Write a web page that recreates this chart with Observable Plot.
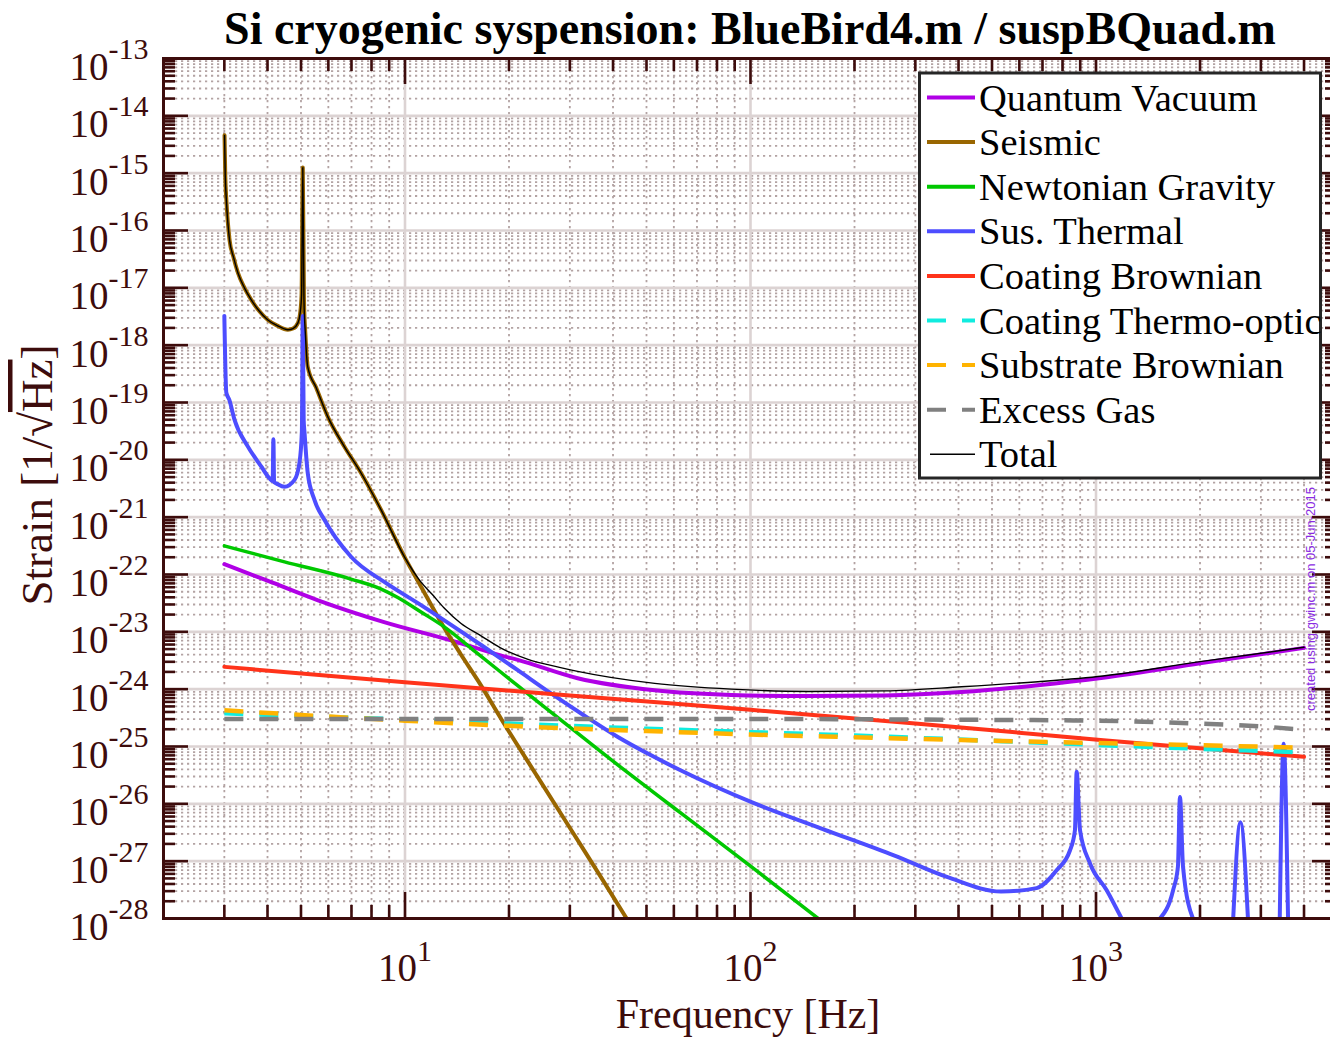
<!DOCTYPE html>
<html><head><meta charset="utf-8">
<script src="https://cdn.jsdelivr.net/npm/d3@7"></script>
<script src="https://cdn.jsdelivr.net/npm/@observablehq/plot@0.6"></script>
<style>
html,body{margin:0;padding:0;background:#fff;overflow:hidden;width:1330px;height:1038px;}
#wrap{position:relative;width:1330px;height:1038px;overflow:hidden;background:#fff;}
#wrap > svg{position:absolute;left:0;top:0;}
</style></head>
<body><div id="wrap"></div>
<script>
// ---------------- data (frequency in Hz, strain in 1/sqrt(Hz)) ----------------
const quantumFreq   = [3, 4, 5.6, 8.7, 13.6, 18.9, 21.2, 31.6, 52.8, 88, 147, 246, 408, 679, 1048, 2000, 4000];
const quantumStrain = [1.51e-22, 7.8e-23, 3.55e-23, 1.48e-23, 7.08e-24, 3.89e-24, 3.24e-24, 1.55e-24, 9.55e-25, 7.94e-25, 7.59e-25, 7.76e-25, 8.91e-25, 1.17e-24, 1.58e-24, 2.82e-24, 5.25e-24];

const seismicFreq   = [3.004, 3.018, 3.04, 3.07, 3.105, 3.19, 3.285, 3.43, 3.59, 3.78, 4.01, 4.27, 4.58, 4.74, 4.90, 4.97, 5.02, 5.06, 5.10, 5.15, 5.23, 5.53, 5.98, 6.66, 7.46, 8.52, 10, 11.1, 12.96, 14.5, 16.3, 19.3, 24.2, 30.6, 37.1, 43.8];
const seismicStrain = [4.57e-15, 9.33e-16, 3.47e-16, 1.41e-16, 6.92e-17, 3.39e-17, 1.82e-17, 1.0e-17, 6.17e-18, 3.98e-18, 2.75e-18, 2.19e-18, 1.86e-18, 1.95e-18, 2.45e-18, 3.55e-18, 7.59e-18, 1.26e-15, 6.17e-18, 1.51e-18, 4.17e-19, 1.82e-19, 5.62e-20, 1.74e-20, 5.89e-21, 1.35e-21, 1.95e-22, 6.31e-23, 1.20e-23, 4.07e-24, 1.38e-24, 2.57e-25, 2.95e-26, 3.16e-27, 5.01e-28, 1.0e-28];

const newtonianFreq   = [3.0, 4.48, 6.98, 8.5, 9.53, 11.1, 12.96, 16.0, 21.2, 23.9, 33.0, 38.9, 51.4, 62.5, 100.7, 157];
const newtonianStrain = [3.16e-22, 1.66e-22, 8.32e-23, 5.62e-23, 3.98e-23, 2.24e-23, 1.23e-23, 4.47e-24, 1.15e-24, 6.46e-25, 1.38e-25, 6.31e-26, 1.74e-26, 7.08e-27, 7.94e-28, 1.0e-28];

// null = curve below the bottom of the chart
const susThermalFreq   = [3.0, 3.04, 3.1, 3.21, 3.51, 3.84, 4.05, 4.14, 4.16, 4.18, 4.24, 4.48, 4.79, 4.95, 5.03, 5.06, 5.09, 5.12, 5.23, 5.47, 5.85, 6.98, 8.71, 10.9, 13.6, 16.9, 21.2, 26.4, 33, 41.2, 51.4, 62.5, 100.7, 162, 260, 372, 531, 673, 769, 841, 869, 879, 899, 961, 1075, 1186, 1350, 1531, 1671, 1726, 1750, 1786, 1908, 2200, 2495, 2618, 2753, 3100, 3403, 3491, 3596];
const susThermalStrain = [3.24e-18, 1.48e-19, 1.12e-19, 5.01e-20, 1.70e-20, 7.59e-21, 4.79e-21, 4.27e-21, 2.29e-20, 4.07e-21, 3.89e-21, 3.39e-21, 4.47e-21, 8.91e-21, 3.16e-20, 3.24e-18, 5.01e-20, 2.95e-20, 5.89e-21, 2.0e-21, 8.91e-22, 2.04e-22, 7.41e-23, 3.16e-23, 1.32e-23, 5.5e-24, 2.14e-24, 8.5e-25, 3.47e-25, 1.48e-25, 7.08e-26, 3.89e-26, 1.07e-26, 3.63e-27, 1.26e-27, 5.25e-28, 2.95e-28, 3.39e-28, 6.92e-28, 1.55e-27, 3.47e-27, 3.63e-26, 3.47e-27, 9.12e-28, 3.09e-28, 1.0e-28, null, 1.0e-28, 3.09e-28, 7.94e-28, 1.32e-26, 7.94e-28, 1.0e-28, null, 1.0e-28, 4.79e-27, 1.0e-28, null, 1.0e-28, 1.12e-25, 1.0e-28];

const coatBrownFreq   = [3, 10, 30, 51.4, 100, 300, 531, 1050, 2000, 4000];
const coatBrownStrain = [2.45e-24, 1.32e-24, 7.76e-25, 6.03e-25, 4.37e-25, 2.51e-25, 1.86e-25, 1.29e-25, 9.33e-26, 6.61e-26];

const coatThermoFreq   = [3, 5, 10, 20, 50, 100, 200, 500, 1000, 2000, 4000];
const coatThermoStrain = [3.80e-25, 3.39e-25, 2.95e-25, 2.51e-25, 2.04e-25, 1.78e-25, 1.55e-25, 1.26e-25, 1.07e-25, 9.12e-26, 7.94e-26];

const substrateFreq   = [3, 5, 10, 20, 50, 100, 200, 500, 1000, 2000, 4000];
const substrateStrain = [4.27e-25, 3.55e-25, 2.82e-25, 2.29e-25, 1.86e-25, 1.62e-25, 1.45e-25, 1.26e-25, 1.15e-25, 1.05e-25, 9.55e-26];

const gasFreq   = [3, 10, 100, 300, 1000, 2000, 3000, 4000];
const gasStrain = [3.02e-25, 3.02e-25, 3.02e-25, 2.95e-25, 2.82e-25, 2.51e-25, 2.24e-25, 1.95e-25];

const totalFreq   = [3.004, 3.018, 3.04, 3.07, 3.105, 3.19, 3.285, 3.43, 3.59, 3.78, 4.01, 4.27, 4.58, 4.74, 4.90, 4.97, 5.02, 5.06, 5.10, 5.15, 5.23, 5.53, 5.98, 6.66, 7.46, 8.52, 10, 11.1, 12.0, 12.96, 14.5, 16.6, 18.9, 22.7, 28, 31.6, 52.8, 88, 147, 246, 408, 679, 1048, 2000, 4000];
const totalStrain = [4.57e-15, 9.33e-16, 3.47e-16, 1.41e-16, 6.92e-17, 3.39e-17, 1.82e-17, 1.0e-17, 6.17e-18, 3.98e-18, 2.75e-18, 2.19e-18, 1.86e-18, 1.95e-18, 2.45e-18, 3.55e-18, 7.59e-18, 1.26e-15, 6.17e-18, 1.51e-18, 4.17e-19, 1.82e-19, 5.62e-20, 1.74e-20, 5.89e-21, 1.35e-21, 1.95e-22, 7.5e-23, 4.47e-23, 2.63e-23, 1.41e-23, 8.51e-24, 5.25e-24, 3.31e-24, 2.40e-24, 2.04e-24, 1.26e-24, 1.0e-24, 9.12e-25, 9.33e-25, 1.10e-24, 1.35e-24, 1.70e-24, 3.02e-24, 5.37e-24];

const seriesNames = ["Quantum Vacuum", "Seismic", "Newtonian Gravity", "Sus. Thermal", "Coating Brownian", "Coating Thermo-optic", "Substrate Brownian", "Excess Gas", "Total"];
const xTickExponents = [1, 2, 3];
const yTickExponents = [-28, -27, -26, -25, -24, -23, -22, -21, -20, -19, -18, -17, -16, -15, -14, -13];

// ---------------- styles ----------------
const axisColor = "#3d0c0c";
const seriesStyle = {
  "Quantum Vacuum":       {stroke: "#b000e6", strokeWidth: 4,   dash: null},
  "Seismic":              {stroke: "#996600", strokeWidth: 4,   dash: null},
  "Newtonian Gravity":    {stroke: "#00c800", strokeWidth: 3.5, dash: null},
  "Sus. Thermal":         {stroke: "#4d4dff", strokeWidth: 4,   dash: null},
  "Coating Brownian":     {stroke: "#ff331a", strokeWidth: 4,   dash: null},
  "Coating Thermo-optic": {stroke: "#10ecdf", strokeWidth: 4.5, dash: "19,16"},
  "Substrate Brownian":   {stroke: "#ffb300", strokeWidth: 4.5, dash: "19,16"},
  "Excess Gas":           {stroke: "#808080", strokeWidth: 4.5, dash: "19,16"},
  "Total":                {stroke: "#000000", strokeWidth: 1.4, dash: null}
};
const seriesData = {
  "Quantum Vacuum": [quantumFreq, quantumStrain],
  "Seismic": [seismicFreq, seismicStrain],
  "Newtonian Gravity": [newtonianFreq, newtonianStrain],
  "Sus. Thermal": [susThermalFreq, susThermalStrain],
  "Coating Brownian": [coatBrownFreq, coatBrownStrain],
  "Coating Thermo-optic": [coatThermoFreq, coatThermoStrain],
  "Substrate Brownian": [substrateFreq, substrateStrain],
  "Excess Gas": [gasFreq, gasStrain],
  "Total": [totalFreq, totalStrain]
};
const rows = name => seriesData[name][0].map((f, i) => ({f, h: seriesData[name][1][i]}));

// ---------------- layout ----------------
const W = 1337, H = 1038, mL = 163, mR = 0, mT = 58, mB = 120;
const frameH = H - mT - mB, frameW = W - mL - mR;
const xMajor = xTickExponents.map(e => 10 ** e);
const xMinor = [];
for (const e of [0, 1, 2, 3]) for (let m = 2; m <= 9; m++) { const v = m * 10 ** e; if (v >= 2 && v <= 5000) xMinor.push(v); }
const yMajor = yTickExponents.map(e => Number("1e" + e));
const yMinor = [];
for (const e of yTickExponents.slice(0, -1)) for (let m = 2; m <= 9; m++) yMinor.push(Number(m + "e" + e));

const minorGrid = {stroke: "#b3a3a3", strokeWidth: 1.8, strokeDasharray: "2.2,3.8"};
const majorGrid = {stroke: "#dcd3d3", strokeWidth: 2.6};
const tickStyle = {stroke: axisColor, strokeWidth: 2.6};

const lineMarks = seriesNames.map(name => {
  const s = seriesStyle[name];
  return Plot.line(rows(name), {
    x: "f", y: "h", stroke: s.stroke, strokeWidth: s.strokeWidth,
    strokeDasharray: s.dash || undefined, strokeLinecap: s.dash ? "butt" : "round",
    strokeLinejoin: "round", curve: "monotone-x", clip: true
  });
});

const plot = Plot.plot({
  width: W, height: H,
  marginLeft: mL, marginRight: mR, marginTop: mT, marginBottom: mB,
  style: {maxWidth: "none", background: "transparent", color: axisColor, fontFamily: "'Liberation Serif', 'Times New Roman', serif", overflow: "visible"},
  x: {type: "log", domain: [2, 5000]},
  y: {type: "log", domain: [1e-28, 1e-13]},
  marks: [
    Plot.ruleX(xMinor, {x: d => d, ...minorGrid}),
    Plot.ruleY(yMinor, {y: d => d, ...minorGrid}),
    Plot.ruleX(xMajor, {x: d => d, ...majorGrid}),
    Plot.ruleY(yMajor, {y: d => d, ...majorGrid}),
    ...lineMarks,
    // ticks (inward, on all four sides)
    Plot.ruleX(xMinor, {x: d => d, insetTop: frameH - 13, ...tickStyle}),
    Plot.ruleX(xMinor, {x: d => d, insetBottom: frameH - 13, ...tickStyle}),
    Plot.ruleX(xMajor, {x: d => d, insetTop: frameH - 26, ...tickStyle}),
    Plot.ruleX(xMajor, {x: d => d, insetBottom: frameH - 26, ...tickStyle}),
    Plot.ruleY(yMinor, {y: d => d, insetRight: frameW - 12, ...tickStyle}),
    Plot.ruleY(yMinor, {y: d => d, insetLeft: frameW - 12, ...tickStyle}),
    Plot.ruleY(yMajor, {y: d => d, insetRight: frameW - 25, ...tickStyle}),
    Plot.ruleY(yMajor, {y: d => d, insetLeft: frameW - 25, ...tickStyle}),
    Plot.frame({stroke: axisColor, strokeWidth: 3}),
    Plot.axisX({ticks: xMajor, tickFormat: d => "10^" + Math.round(Math.log10(d)), tickSize: 0, tickPadding: 35, fontSize: 39, label: null, fill: axisColor}),
    Plot.axisY({ticks: yMajor, tickFormat: d => "10^" + Math.round(Math.log10(d)), tickSize: 0, tickPadding: 15, fontSize: 39, dy: 9, label: null, fill: axisColor})
  ]
});

// superscripts in tick labels
plot.querySelectorAll("text").forEach(t => {
  const s = t.textContent;
  if (!s.includes("^")) return;
  const [base, exp] = s.split("^");
  const neg = exp.startsWith("-");
  while (t.firstChild) t.removeChild(t.firstChild);
  const ns = "http://www.w3.org/2000/svg";
  const b = document.createElementNS(ns, "tspan"); b.textContent = base; t.appendChild(b);
  const e = document.createElementNS(ns, "tspan");
  e.textContent = exp; e.setAttribute("font-size", "30"); e.setAttribute("dy", neg ? "-21" : "-20");
  t.appendChild(e);
});

const wrap = document.getElementById("wrap");
wrap.appendChild(plot);

// ---------------- overlay: title, axis titles, legend, stamp ----------------
const ov = d3.select(wrap).append("svg").attr("width", 1330).attr("height", 1038)
  .style("pointer-events", "none").attr("font-family", "'Liberation Serif', 'Times New Roman', serif");

ov.append("text").attr("x", 750).attr("y", 44).attr("text-anchor", "middle")
  .attr("font-size", 46).attr("font-weight", "bold").attr("fill", "#000")
  .text("Si cryogenic syspension: BlueBird4.m / suspBQuad.m");

ov.append("text").attr("x", 748).attr("y", 1028).attr("text-anchor", "middle")
  .attr("font-size", 42).attr("fill", axisColor).text("Frequency [Hz]");

const yl = ov.append("text").attr("transform", "translate(52,475) rotate(-90)").attr("text-anchor", "middle")
  .attr("font-size", 45).attr("fill", axisColor);
yl.append("tspan").text("Strain [1/√");
yl.append("tspan").attr("text-decoration", "overline").text("Hz");
yl.append("tspan").text("]");

// legend
const lg = ov.append("g");
lg.append("rect").attr("x", 919.5).attr("y", 73).attr("width", 401).attr("height", 405)
  .attr("fill", "#fff").attr("stroke", "#262626").attr("stroke-width", 3);
seriesNames.forEach((name, i) => {
  const s = seriesStyle[name];
  const cy = 97.5 + 44.6 * i;
  lg.append("line").attr("x1", name === "Total" ? 930 : 927).attr("x2", 975).attr("y1", cy).attr("y2", cy)
    .attr("stroke", s.stroke).attr("stroke-width", name === "Total" ? 1.4 : 4)
    .attr("stroke-dasharray", s.dash || null);
  lg.append("text").attr("x", 979).attr("y", cy + 13).attr("font-size", 38.5).attr("fill", "#000").text(name);
});

ov.append("text").attr("transform", "translate(1315,599) rotate(-90)").attr("text-anchor", "middle")
  .attr("font-family", "'Liberation Sans', Arial, sans-serif").attr("font-size", 13).attr("fill", "#8a2be2")
  .text("created using gwinc.m on 05-Jun-2015");
</script>
</body></html>
